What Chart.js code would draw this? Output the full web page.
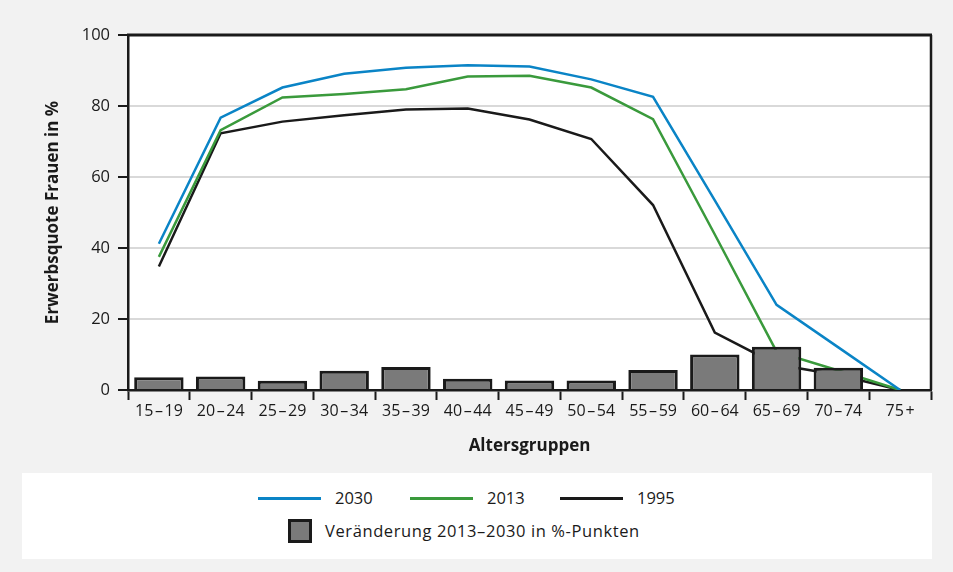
<!DOCTYPE html>
<html>
<head>
<meta charset="utf-8">
<script src="https://cdn.jsdelivr.net/npm/chart.js@4.4.1/dist/chart.umd.min.js"></script>
<style>
  html, body { margin: 0; padding: 0; background: #f2f2f2; }
  #wrap { position: relative; width: 953px; height: 572px; background: #f2f2f2; font-family: "Open Sans", sans-serif; color: #1a1a1a; }
  canvas { position: absolute; left: 0; top: 0; }
  #legend { position: absolute; left: 22px; top: 473px; width: 910px; height: 86px; background: #ffffff; }
  .item { position: absolute; font-size: 16.5px; line-height: 20px; white-space: nowrap; }
  .swline { position: absolute; height: 3px; }
  .swbox { position: absolute; width: 18px; height: 18px; background: #7a7a7a; border: 3px solid #1a1a1a; }
</style>
</head>
<body>
<div id="wrap">
  <canvas id="c" width="953" height="572"></canvas>
  <div id="legend"></div>
</div>
<script>
// ---- data ----
const categories = ['15\u200a–\u200a19','20\u200a–\u200a24','25\u200a–\u200a29','30\u200a–\u200a34','35\u200a–\u200a39','40\u200a–\u200a44','45\u200a–\u200a49','50\u200a–\u200a54','55\u200a–\u200a59','60\u200a–\u200a64','65\u200a–\u200a69','70\u200a–\u200a74','75\u200a+'];
const quote2030 = [41.2, 76.7, 85.2, 89.1, 90.8, 91.5, 91.1, 87.5, 82.6, 53.4, 24.0, 12.0, 0];
const quote2013 = [37.5, 73.2, 82.4, 83.4, 84.7, 88.3, 88.5, 85.2, 76.3, 43.8, 10.8, 5.5, 0];
const quote1995 = [34.8, 72.3, 75.6, 77.4, 79.0, 79.3, 76.2, 70.7, 52.1, 16.2, 7.2, 4.2, 0];
const change2013to2030 = [3.6, 3.8, 2.6, 5.4, 6.5, 3.2, 2.7, 2.7, 5.6, 10.0, 12.2, 6.3, null];
const yTicks = [0, 20, 40, 60, 80, 100];
const seriesNames = ['2030', '2013', '1995', 'Veränderung 2013–2030 in %-Punkten'];
const yTitle = 'Erwerbsquote Frauen in %';
const xTitle = 'Altersgruppen';

// ---- styles ----
const colors = { c2030: '#0a84c6', c2013: '#3a9a3c', c1995: '#1a1a1a', bar: '#7a7a7a', barBorder: '#1a1a1a' };
const font = '"Open Sans", sans-serif';

const plotFrame = {
  id: 'plotFrame',
  beforeDraw(chart) {
    const {ctx, chartArea: a} = chart;
    ctx.save();
    ctx.fillStyle = '#ffffff';
    ctx.fillRect(a.left, a.top, a.right - a.left, a.bottom - a.top);
    ctx.restore();
  },
  afterDraw(chart) {
    const {ctx, chartArea: a} = chart;
    ctx.save();
    ctx.strokeStyle = '#1a1a1a';
    ctx.lineWidth = 3;
    ctx.beginPath();
    ctx.moveTo(a.left - 1, a.top);
    ctx.lineTo(a.right + 1, a.top);
    ctx.stroke();
    ctx.lineWidth = 2.5;
    ctx.beginPath();
    ctx.moveTo(a.right, a.top);
    ctx.lineTo(a.right, a.bottom);
    ctx.stroke();
    ctx.restore();
  }
};

const lineDs = (label, data, color) => ({
  type: 'line', label, data, borderColor: color, backgroundColor: color,
  borderWidth: 2.5, pointRadius: 0, tension: 0, order: 2
});

new Chart(document.getElementById('c'), {
  data: {
    labels: categories,
    datasets: [
      lineDs(seriesNames[0], quote2030, colors.c2030),
      lineDs(seriesNames[1], quote2013, colors.c2013),
      lineDs(seriesNames[2], quote1995, colors.c1995),
      { type: 'bar', label: seriesNames[3], data: change2013to2030, backgroundColor: colors.bar,
        borderColor: colors.barBorder, borderWidth: 3, categoryPercentage: 0.8, barPercentage: 1.0, order: 1 }
    ]
  },
  options: {
    responsive: false,
    animation: false,
    layout: { padding: { left: 43, right: 22, top: 35, bottom: 114 } },
    plugins: { legend: { display: false }, tooltip: { enabled: false } },
    scales: {
      x: {
        type: 'category',
        offset: true,
        grid: { offset: true, drawOnChartArea: false, tickColor: '#1a1a1a', tickLength: 10, tickWidth: 2 },
        border: { color: '#1a1a1a', width: 2.5 },
        ticks: { color: '#1a1a1a', font: { family: font, size: 16 }, padding: 2, maxRotation: 0, autoSkip: false },
        title: { display: true, text: xTitle, color: '#1a1a1a', font: { family: font, size: 17, weight: 'bold' }, padding: { top: 0, bottom: 2 } },
        afterFit(s) { s.height = 68; }
      },
      y: {
        min: 0, max: 100,
        afterBuildTicks(s) { s.ticks = yTicks.map(v => ({ value: v })); },
        grid: { color: '#d9d9d9', lineWidth: 2, tickColor: '#1a1a1a', tickLength: 10, tickWidth: 2 },
        border: { color: '#1a1a1a', width: 2.5 },
        ticks: { color: '#1a1a1a', font: { family: font, size: 16.5 }, padding: 8 },
        title: { display: true, text: yTitle, color: '#1a1a1a', font: { family: font, size: 17, weight: 'bold' }, padding: { top: 0, bottom: 0 } },
        afterFit(s) { s.width = 85; }
      }
    }
  },
  plugins: [plotFrame]
});

// ---- legend (HTML, real text) ----
const legend = document.getElementById('legend');
const lineItems = [
  { name: seriesNames[0], color: colors.c2030, x: 236 },
  { name: seriesNames[1], color: colors.c2013, x: 388 },
  { name: seriesNames[2], color: colors.c1995, x: 538 }
];
lineItems.forEach(it => {
  const sw = document.createElement('div');
  sw.className = 'swline';
  sw.style.left = it.x + 'px'; sw.style.top = '24px'; sw.style.width = '63px';
  sw.style.background = it.color;
  legend.appendChild(sw);
  const t = document.createElement('div');
  t.className = 'item';
  t.style.left = (it.x + 77) + 'px'; t.style.top = '15px';
  t.textContent = it.name;
  legend.appendChild(t);
});
const box = document.createElement('div');
box.className = 'swbox';
box.style.left = '266px'; box.style.top = '46px';
legend.appendChild(box);
const bt = document.createElement('div');
bt.className = 'item';
bt.style.left = '303px'; bt.style.top = '48px';
bt.style.letterSpacing = '0.6px';
bt.textContent = seriesNames[3];
legend.appendChild(bt);
</script>
</body>
</html>
